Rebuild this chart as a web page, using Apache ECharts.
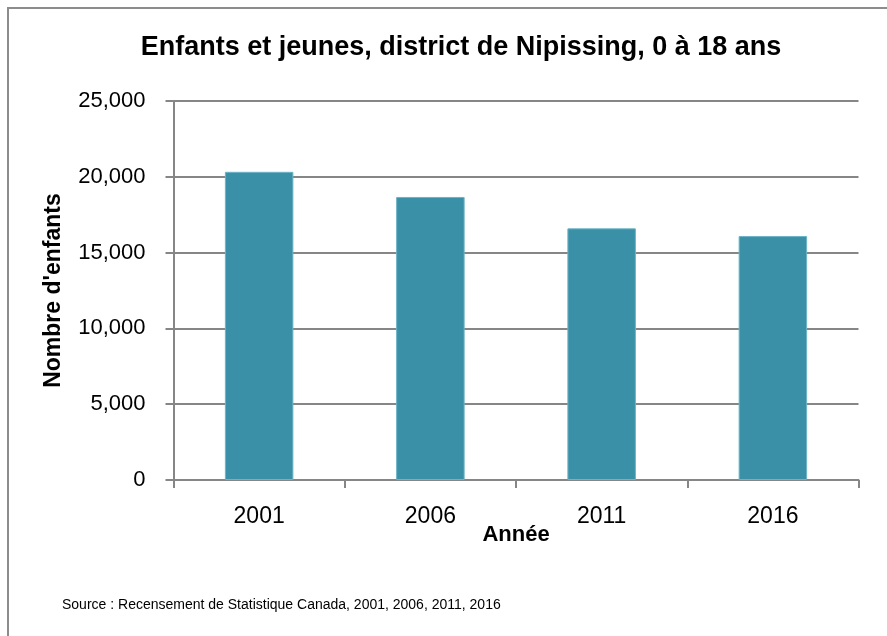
<!DOCTYPE html>
<html>
<head>
<meta charset="utf-8">
<script src="https://cdn.jsdelivr.net/npm/echarts@6/dist/echarts.min.js"></script>
<style>
  html, body { margin: 0; padding: 0; background: #fff; }
  #charts { width: 887px; height: 636px; }
</style>
</head>
<body>
<div id="charts"></div>
<script>
const years = ["2001", "2006", "2011", "2016"];
const enfants = [20330, 18670, 16600, 16090];
const yTicks = [0, 5000, 10000, 15000, 20000, 25000];

const chart = echarts.init(document.getElementById("charts"));
const font = "'Liberation Sans', 'DejaVu Sans', sans-serif";

const option = {
  animation: false,
  textStyle: { fontFamily: font },
  title: {
    text: "Enfants et jeunes, district de Nipissing, 0 à 18 ans",
    left: 456,
    top: 29,
    textAlign: "center",
    textStyle: { fontSize: 27, fontWeight: "bold", color: "#000", fontFamily: font }
  },
  graphic: [
    {
      type: "rect",
      shape: { x: 8, y: 8, width: 1000, height: 1000 },
      style: { fill: "none", stroke: "#8c8c8c", lineWidth: 2 }
    },
    {
      type: "text",
      left: 62,
      top: 598,
      style: {
        text: "Source : Recensement de Statistique Canada, 2001, 2006, 2011, 2016",
        fontSize: 14,
        fill: "#000",
        fontFamily: font
      }
    }
  ],
  grid: { left: 173.5, right: 28.5, top: 101, bottom: 156 },
  xAxis: {
    type: "category",
    data: years,
    name: "Année",
    nameLocation: "middle",
    nameGap: 44,
    nameMoveOverlap: false,
    nameTextStyle: { fontSize: 22, fontWeight: "bold", color: "#000" },
    axisLine: { lineStyle: { color: "#868686", width: 2 } },
    axisTick: { show: true, length: 8, alignWithLabel: false, lineStyle: { color: "#868686", width: 2 } },
    axisLabel: { fontSize: 23, color: "#000", margin: 25 }
  },
  yAxis: {
    type: "value",
    min: yTicks[0],
    max: yTicks[yTicks.length - 1],
    interval: 5000,
    name: "Nombre d'enfants",
    nameLocation: "middle",
    nameGap: 108,
    nameMoveOverlap: false,
    nameTextStyle: { fontSize: 23, fontWeight: "bold", color: "#000" },
    axisLine: { show: true, lineStyle: { color: "#868686", width: 2 } },
    axisTick: { show: true, length: 8, lineStyle: { color: "#868686", width: 2 } },
    axisLabel: {
      fontSize: 22,
      color: "#000",
      margin: 28,
      formatter: v => v.toLocaleString("en-US")
    },
    splitLine: { lineStyle: { color: "#868686", width: 2 } }
  },
  series: [
    {
      type: "bar",
      data: enfants,
      barWidth: "40%",
      itemStyle: { color: "#3a90a6", borderColor: "#6fb3c6", borderWidth: 1 }
    }
  ]
};

chart.setOption(option);
</script>
</body>
</html>
